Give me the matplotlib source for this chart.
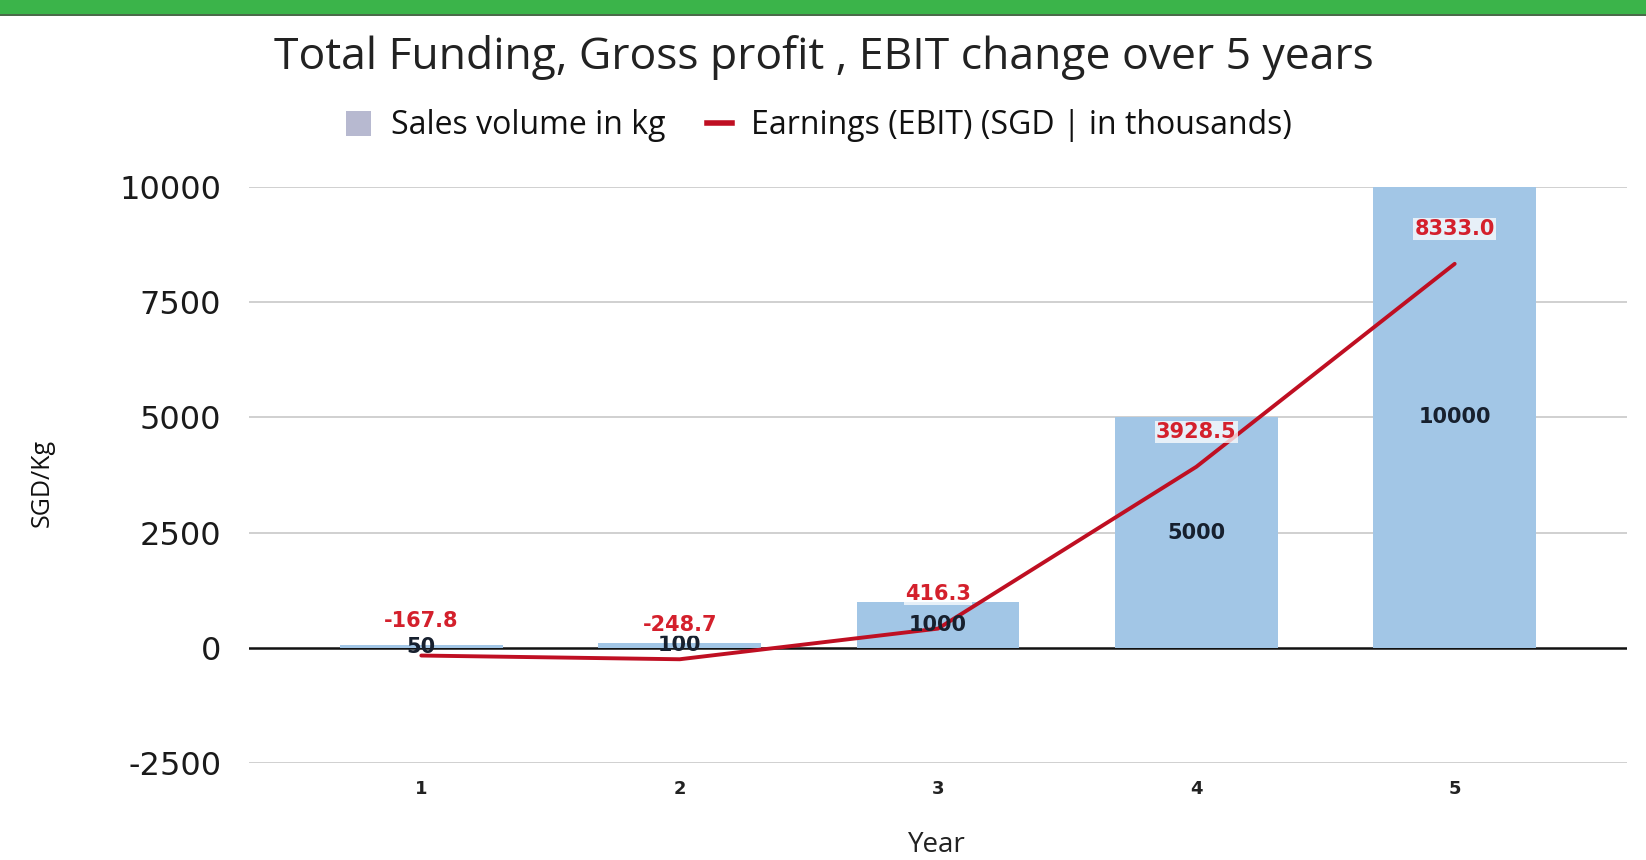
import matplotlib
matplotlib.use("Agg")
import matplotlib.pyplot as plt
from matplotlib.patches import Rectangle
from matplotlib.lines import Line2D
from matplotlib.patches import Patch

years = ["1", "2", "3", "4", "5"]
sales_volume = [50, 100, 1000, 5000, 10000]
ebit = [-167.8, -248.7, 416.3, 3928.5, 8333.0]
y_ticks = [-2500, 0, 2500, 5000, 7500, 10000]

title = "Total Funding, Gross profit , EBIT change over 5 years"
bar_name = "Sales volume in kg"
line_name = "Earnings (EBIT) (SGD | in thousands)"

BAR_C = "#a2c6e6"
BAR_LEG = "#b7b9d0"
LINE_C = "#bf0f22"
LBL_RED = "#d4202c"

W, H = 1646, 860
fig = plt.figure(figsize=(W / 100, H / 100), dpi=100)
fig.patch.set_facecolor("white")

# top green band
fig.patches.append(Rectangle((0, 1 - 14 / H), 1, 14 / H, transform=fig.transFigure,
                             facecolor="#3bb44a", edgecolor="none", zorder=0))
fig.patches.append(Rectangle((0, 1 - 16 / H), 1, 2 / H, transform=fig.transFigure,
                             facecolor="#4a6a4a", edgecolor="none", zorder=0))

left, right = 249 / W, 1627 / W
top, bottom = 1 - 187 / H, 1 - 763 / H
ax = fig.add_axes([left, bottom, right - left, top - bottom])

x = list(range(1, len(years) + 1))
ax.set_xlim(1 - 0.667, len(years) + 0.667)
ax.set_ylim(-2500, 10000)

for t in y_ticks:
    ax.axhline(t, color="#c8c8c8" if t != 0 else "#111111",
               lw=1.2 if t != 0 else 1.8, zorder=1 if t != 0 else 2)

ax.bar(x, sales_volume, width=0.63, color=BAR_C, edgecolor="none", zorder=2)
ax.plot(x, ebit, color=LINE_C, lw=2.8, zorder=4, solid_capstyle="round")

for xi, v in zip(x, sales_volume):
    ax.text(xi, v / 2, f"{v}", ha="center", va="center", fontsize=15,
            family="DejaVu Sans", fontweight="bold", color="#17202e", zorder=5)

for xi, v in zip(x, ebit):
    ax.annotate(f"{v:.1f}", (xi, v), xytext=(0, 25), textcoords="offset points",
                ha="center", va="center", fontsize=15, family="DejaVu Sans",
                fontweight="bold", color=LBL_RED, zorder=6,
                bbox=dict(boxstyle="square,pad=0.05", facecolor="white",
                          edgecolor="none", alpha=0.75))

ax.set_yticks(y_ticks)
ax.set_yticklabels([str(t) for t in y_ticks], family="DejaVu Sans", fontsize=23,
                   color="#1a1a1a")
ax.set_xticks(x)
ax.set_xticklabels(years, family="DejaVu Sans", fontsize=13, color="#222222",
                   fontweight="bold")
ax.tick_params(axis="both", length=0)
ax.tick_params(axis="y", pad=20)
ax.tick_params(axis="x", pad=12)
for s in ax.spines.values():
    s.set_visible(False)

fig.text(42 / W, 1 - 483 / H, "SGD/Kg", rotation=90, ha="center", va="center",
         fontsize=18, family="Open Sans", color="#111111")
fig.text(937 / W, 1 - 845 / H, "Year", ha="center", va="center",
         fontsize=20, family="Open Sans", color="#222222")
fig.text(824 / W, 1 - 58 / H, title, ha="center", va="center",
         fontsize=32, family="Open Sans", color="#222222")

handles = [Patch(facecolor=BAR_LEG, edgecolor="none"),
           Line2D([0], [0], color=LINE_C, lw=4)]
fig.legend(handles, [bar_name, line_name], loc="center",
           bbox_to_anchor=(819 / W, 1 - 126 / H), ncol=2, frameon=False,
           prop=dict(family="Open Sans", size=23), handlelength=0.8,
           handleheight=0.8, handletextpad=0.6, columnspacing=1.3,
           labelcolor="#111111")

fig.savefig("out.png", dpi=100, facecolor="white")
